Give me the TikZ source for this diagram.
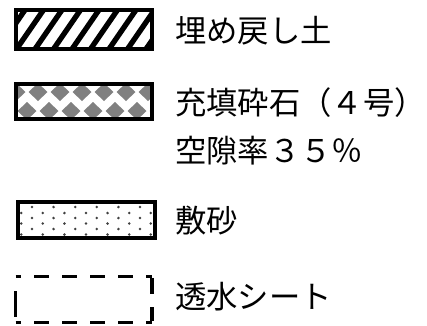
\documentclass[tikz,border=0pt]{standalone}
\usepackage{fontspec}
\newfontfamily\jfont{Noto Sans CJK JP}
\begin{document}
\begin{tikzpicture}[x=0.75pt,y=-0.75pt,
  boxline/.style={line width=3pt,draw=black},
  legtext/.style={anchor=west,inner sep=0pt,font=\jfont\fontsize{23.5}{28}\selectfont},
  hatchline/.style={line width=4pt,black},
  diam/.style={fill=black!50,draw=none},
  dot/.style={fill=black!75,draw=none}]
\useasboundingbox (0,0) rectangle (427,325);
% box 1: hatch
\begin{scope}
  \clip (16,10) rectangle (152,49);
  \foreach \k in {-1,...,9} {
    \draw[hatchline] ({-4+18.5*\k},52) -- ({-4+18.5*\k+31},7);
  }
\end{scope}
\node[boxline,minimum width=102pt,minimum height=29.25pt,inner sep=0pt] (b1) at (84,29.5) {};
\node[legtext] (t1) at (175,31) {埋め戻し土};
% box 2: diamonds
\begin{scope}
  \clip (16,84) rectangle (152,119);
  \foreach \k in {-1,...,7} {
    \fill[diam] ({38+22*\k},83) -- ({47.5+22*\k},92) -- ({38+22*\k},101) -- ({28.5+22*\k},92) -- cycle;
    \fill[diam] ({27+22*\k},102) -- ({36.5+22*\k},111) -- ({27+22*\k},120) -- ({17.5+22*\k},111) -- cycle;
  }
\end{scope}
\node[boxline,minimum width=102pt,minimum height=26.25pt,inner sep=0pt] (b2) at (84,101.5) {};
\node[legtext] (t2) at (175,103) {充填砕石（４号）};
\node[legtext] (t3) at (175,151) {空隙率３５％};
% box 3: dots
\begin{scope}
  \clip (18,202) rectangle (155,238);
  \foreach \r/\y in {0/207,1/213,0/218,1/223.5,0/229,1/234.5} {
    \foreach \k in {-1,...,7} {
      \fill[dot] ({32-10.8*\r+21.6*\k},\y) circle (1.4);
    }
  }
\end{scope}
\node[boxline,minimum width=102.75pt,minimum height=27pt,inner sep=0pt] (b3) at (86.5,220) {};
\node[legtext] (t4) at (175,221) {敷砂};
% box 4: dashed
\coordinate (d1) at (15.5,276.5);
\coordinate (d2) at (152,276.5);
\coordinate (d3) at (152,322.5);
\coordinate (d4) at (15.5,322.5);
\draw[line width=2.8pt,dash pattern=on 11pt off 10pt,dash phase=7pt] (d1) -- (d2);
\draw[line width=2.8pt,dash pattern=on 11pt off 10pt,dash phase=7pt] (d4) -- (d3);
\draw[line width=2.8pt,dash pattern=on 12pt off 10pt,dash phase=0pt] ([yshift=-1pt]d2) -- ([yshift=1pt]d3);
\draw[line width=2.8pt,dash pattern=on 0pt off 11pt on 19pt off 10pt] (d1) -- (d4);
\node[legtext] (t5) at (175,297) {透水シート};
\end{tikzpicture}
\end{document}
